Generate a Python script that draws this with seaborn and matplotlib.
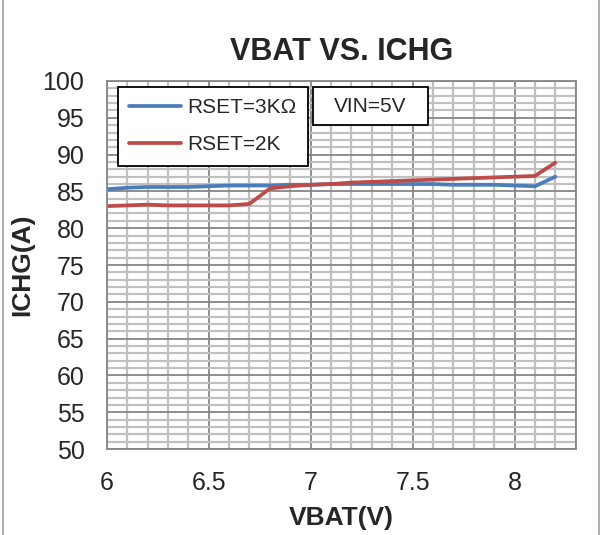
import numpy as np
import pandas as pd
import matplotlib
matplotlib.use("Agg")
import matplotlib.pyplot as plt
from matplotlib.ticker import MultipleLocator
import seaborn as sns

vbat = [6.0, 6.1, 6.2, 6.3, 6.4, 6.5, 6.6, 6.7, 6.8, 6.9, 7.0, 7.1,
        7.2, 7.3, 7.4, 7.5, 7.6, 7.7, 7.8, 7.9, 8.0, 8.1, 8.2]
ichg_3k = [85.3, 85.5, 85.6, 85.6, 85.6, 85.7, 85.8, 85.8, 85.8, 85.9, 85.9, 86.0,
           86.0, 86.0, 86.0, 86.0, 86.0, 85.9, 85.9, 85.9, 85.8, 85.7, 87.0]
ichg_2k = [83.0, 83.1, 83.2, 83.1, 83.1, 83.1, 83.1, 83.3, 85.4, 85.7, 85.9, 86.0,
           86.2, 86.3, 86.4, 86.5, 86.6, 86.7, 86.8, 86.9, 87.0, 87.1, 88.9]
series = ["RSET=3K\u03a9", "RSET=2K"]

df = pd.concat([
    pd.DataFrame({"VBAT": vbat, "ICHG": ichg_3k, "RSET": series[0]}),
    pd.DataFrame({"VBAT": vbat, "ICHG": ichg_2k, "RSET": series[1]}),
])

sns.set_style("white")
plt.rcParams['font.family'] = ['Liberation Sans', 'DejaVu Sans']

fig = plt.figure(figsize=(6.05, 5.35), dpi=100)
ax = fig.add_axes([0.1764, 0.1607, 0.7752, 0.6879])

# light minor grid, darker major grid (excel look)
ax.xaxis.set_major_locator(MultipleLocator(0.5))
ax.xaxis.set_minor_locator(MultipleLocator(0.1))
ax.yaxis.set_major_locator(MultipleLocator(5))
ax.yaxis.set_minor_locator(MultipleLocator(1))
ax.grid(which="minor", color="#c0c0c0", linewidth=1.6)
ax.grid(which="major", color="#868686", linewidth=1.3)
ax.set_axisbelow(True)

sns.lineplot(data=df, x="VBAT", y="ICHG", hue="RSET", hue_order=series,
             palette=["#4a7ebb", "#be4b48"], linewidth=2.7, ax=ax)

ax.set_xlim(6, 8.3)
ax.set_ylim(50, 100)
for s in ax.spines.values():
    s.set_color("#868686")
    s.set_linewidth(1.3)
ax.tick_params(which="both", length=0, labelsize=18, pad=16)
ax.set_xticks([6, 6.5, 7, 7.5, 8])
ax.set_xticklabels(["6", "6.5", "7", "7.5", "8"])

ax.set_title("VBAT VS. ICHG", fontsize=22, fontweight="bold", pad=15)
ax.set_xlabel("VBAT(V)", fontsize=19, fontweight="bold", labelpad=8)
ax.set_ylabel("ICHG(A)", fontsize=19, fontweight="bold", labelpad=6)

leg = ax.legend(loc="upper left", bbox_to_anchor=(0.0235, 0.984), borderaxespad=0,
                fontsize=15, frameon=True, fancybox=False, edgecolor="black",
                framealpha=1, handlelength=2.5, labelspacing=0.85, borderpad=0.55,
                handletextpad=0.3)
leg.get_frame().set_linewidth(1.3)

# VIN=5V note box
ax.add_patch(plt.Rectangle((0.44, 0.880), 0.245, 0.103, transform=ax.transAxes,
                           facecolor="white", edgecolor="black", linewidth=1.3, zorder=5))
ax.text(0.5625, 0.932, "VIN=5V", transform=ax.transAxes, fontsize=15,
        ha="center", va="center", zorder=6)

# outer chart border
fig.patches.append(plt.Rectangle((0.005, -0.01), 0.985, 1.02, transform=fig.transFigure,
                                 fill=False, edgecolor="#a0a0a0", linewidth=1.2))

fig.savefig("out.png", dpi=100)
